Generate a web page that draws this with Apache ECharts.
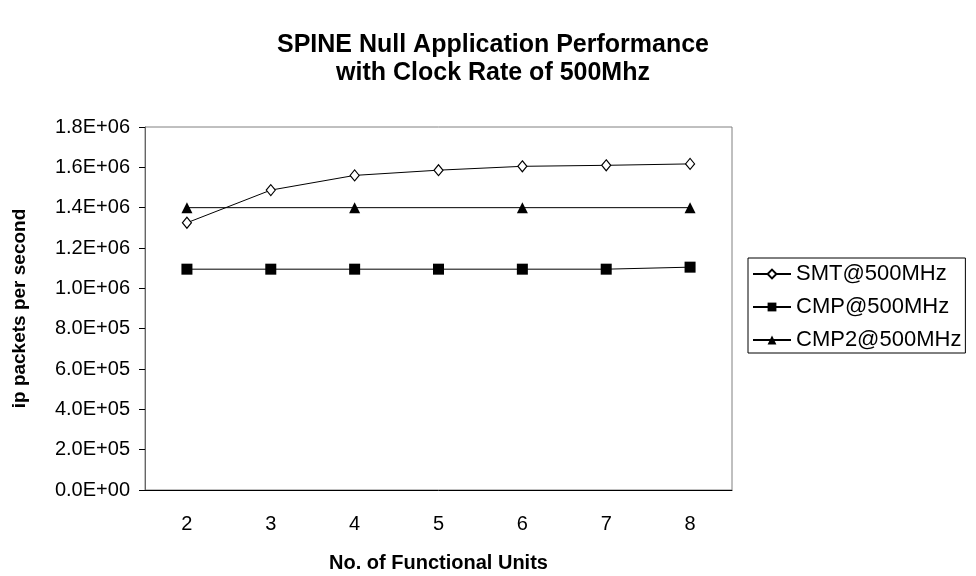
<!DOCTYPE html>
<html>
<head>
<meta charset="utf-8">
<script src="https://cdn.jsdelivr.net/npm/echarts@6/dist/echarts.min.js"></script>
<style>
  html, body { margin: 0; padding: 0; background: #fff; }
  #chart { width: 976px; height: 576px; }
</style>
</head>
<body>
<div id="chart"></div>
<script>
// ── data ─────────────────────────────────────────────────
const units   = ['2', '3', '4', '5', '6', '7', '8']
const smt     = [1.325e6, 1.487e6, 1.56e6, 1.586e6, 1.605e6, 1.61e6, 1.617e6]
const cmp     = [1.095e6, 1.095e6, 1.095e6, 1.095e6, 1.095e6, 1.095e6, 1.105e6]
const cmp2    = [1.4e6, null, 1.4e6, null, 1.4e6, null, 1.4e6]
const names   = ['SMT@500MHz', 'CMP@500MHz', 'CMP2@500MHz']

const FONT = '"Liberation Sans", Arial, sans-serif'

function sci(v) {
  const [m, e] = v.toExponential(1).split('e')
  const n = Math.abs(+e)
  return m.toUpperCase() + 'E' + (+e < 0 ? '-' : '+') + (n < 10 ? '0' + n : n)
}

const lineBase = {
  type: 'line',
  lineStyle: { color: '#000', width: 1 },
  emphasis: { disabled: true },
  animation: false,
}

const chart = echarts.init(document.getElementById('chart'))
chart.setOption({
  textStyle: { fontFamily: FONT },
  title: {
    text: 'SPINE Null Application Performance\nwith Clock Rate of 500Mhz',
    left: 488, top: 26, textAlign: 'center',
    textStyle: { fontFamily: FONT, fontSize: 25, fontWeight: 'bold', color: '#000', lineHeight: 28 },
  },
  grid: {
    left: 145, right: 244, top: 127, bottom: 86,
    outerBoundsMode: 'none',
    show: true, borderColor: '#808080', borderWidth: 1, backgroundColor: '#fff',
  },
  legend: {
    orient: 'vertical', left: 748, top: 258,
    padding: [5, 4, 2, 4],
    itemGap: 11, itemWidth: 38, itemHeight: 11,
    borderColor: '#000', borderWidth: 1,
    data: names,
    textStyle: { fontFamily: FONT, fontSize: 22, color: '#000' },
  },
  xAxis: {
    type: 'category', data: units,
    name: 'No. of Functional Units', nameLocation: 'middle', nameGap: 63,
    nameTextStyle: { fontFamily: FONT, fontSize: 20, fontWeight: 'bold', color: '#000' },
    axisLine: { lineStyle: { color: '#000', width: 1 } },
    axisTick: { length: 6, lineStyle: { color: '#000' } },
    axisLabel: { fontFamily: FONT, fontSize: 20, color: '#000', margin: 24 },
    splitLine: { show: false },
  },
  yAxis: {
    type: 'value', min: 0, max: 1.8e6, interval: 2e5,
    name: 'ip packets per second', nameLocation: 'middle', nameGap: 116,
    nameTextStyle: { fontFamily: FONT, fontSize: 19, fontWeight: 'bold', color: '#000' },
    axisLine: { show: true, lineStyle: { color: '#666', width: 1 } },
    axisTick: { show: true, length: 6, lineStyle: { color: '#000' } },
    axisLabel: { fontFamily: FONT, fontSize: 20, color: '#000', margin: 15, formatter: sci },
    splitLine: { show: false },
  },
  series: [
    { ...lineBase, name: names[0], data: smt,
      symbol: 'diamond', symbolSize: [9, 11],
      itemStyle: { color: '#fff', borderColor: '#000', borderWidth: 1.2 } },
    { ...lineBase, name: names[1], data: cmp,
      symbol: 'rect', symbolSize: 11,
      itemStyle: { color: '#000' } },
    { ...lineBase, name: names[2], data: cmp2, connectNulls: true,
      symbol: 'triangle', symbolSize: 11,
      itemStyle: { color: '#000' } },
  ],
})
</script>
</body>
</html>
